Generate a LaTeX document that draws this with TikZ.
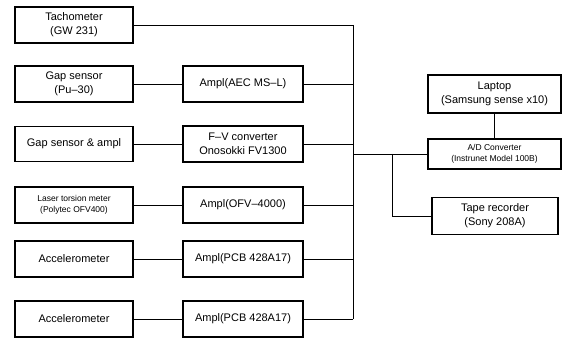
\documentclass[tikz,border=0pt]{standalone}
\usepackage{fontspec}
\setmainfont{Liberation Sans}
\begin{document}
\begin{tikzpicture}[x=1pt,y=-1pt,
  blk/.style={draw,line width=1.1pt,inner sep=1pt,align=center,font=\fontsize{11}{14}\selectfont},
  lbox/.style={blk,minimum width=118pt,minimum height=36pt},
  mbox/.style={blk,minimum width=120pt,minimum height=36pt},
  small/.style={font=\fontsize{8.5}{11}\selectfont},
  conn/.style={line width=0.8pt}]
\useasboundingbox (0,0) rectangle (568,339);
% left column
\node[lbox] (tach) at (74,25) {Tachometer\\(GW 231)};
\node[lbox] (gap) at (74,84) {Gap sensor\\(Pu–30)};
\node[lbox,minimum height=35pt] (gapa) at (74,144) {Gap sensor \& ampl};
\node[lbox,small] (laser) at (74,205) {Laser torsion meter\\(Polytec OFV400)};
\node[lbox] (acc1) at (74,259) {Accelerometer};
\node[lbox] (acc2) at (74,319) {Accelerometer};
% middle column
\node[mbox] (amp1) at (243,84) {Ampl(AEC MS–L)};
\node[mbox] (fv) at (243,144) {F–V converter\\Onosokki FV1300};
\node[mbox] (amp3) at (243,205) {Ampl(OFV–4000)};
\node[mbox] (amp4) at (243,259) {Ampl(PCB 428A17)};
\node[mbox] (amp5) at (243,319) {Ampl(PCB 428A17)};
% right column
\node[blk,minimum width=133pt,minimum height=38pt] (laptop) at (494.5,94) {Laptop\\(Samsung sense x10)};
\node[blk,small,minimum width=133pt,minimum height=30pt] (ad) at (494.5,154) {A/D Converter\\(Instrunet Model 100B)};
\node[blk,minimum width=126pt,minimum height=37pt] (tape) at (495,216) {Tape recorder\\(Sony 208A)};
% bus coordinates
\coordinate (bustop) at (353,25);
\coordinate (busbot) at (353,319);
\coordinate (junc) at (353,154);
\coordinate (tapej) at (392,154);
% connectors
\draw[conn] (gap) -- (amp1);
\draw[conn] (gapa) -- (fv);
\draw[conn] (laser) -- (amp3);
\draw[conn] (acc1) -- (amp4);
\draw[conn] (acc2) -- (amp5);
\draw[conn] (tach.east) -- (bustop);
\draw[conn] (amp1.east) -- (amp1.east -| bustop);
\draw[conn] (fv.east) -- (fv.east -| bustop);
\draw[conn] (amp3.east) -- (amp3.east -| bustop);
\draw[conn] (amp4.east) -- (amp4.east -| bustop);
\draw[conn] (amp5.east) -- (busbot);
\draw[conn] (bustop) -- (busbot);
\draw[conn] (junc) -- (ad.west);
\draw[conn] (tapej) |- (tape.west);
\draw[conn] (laptop) -- (ad);
\end{tikzpicture}
\end{document}
